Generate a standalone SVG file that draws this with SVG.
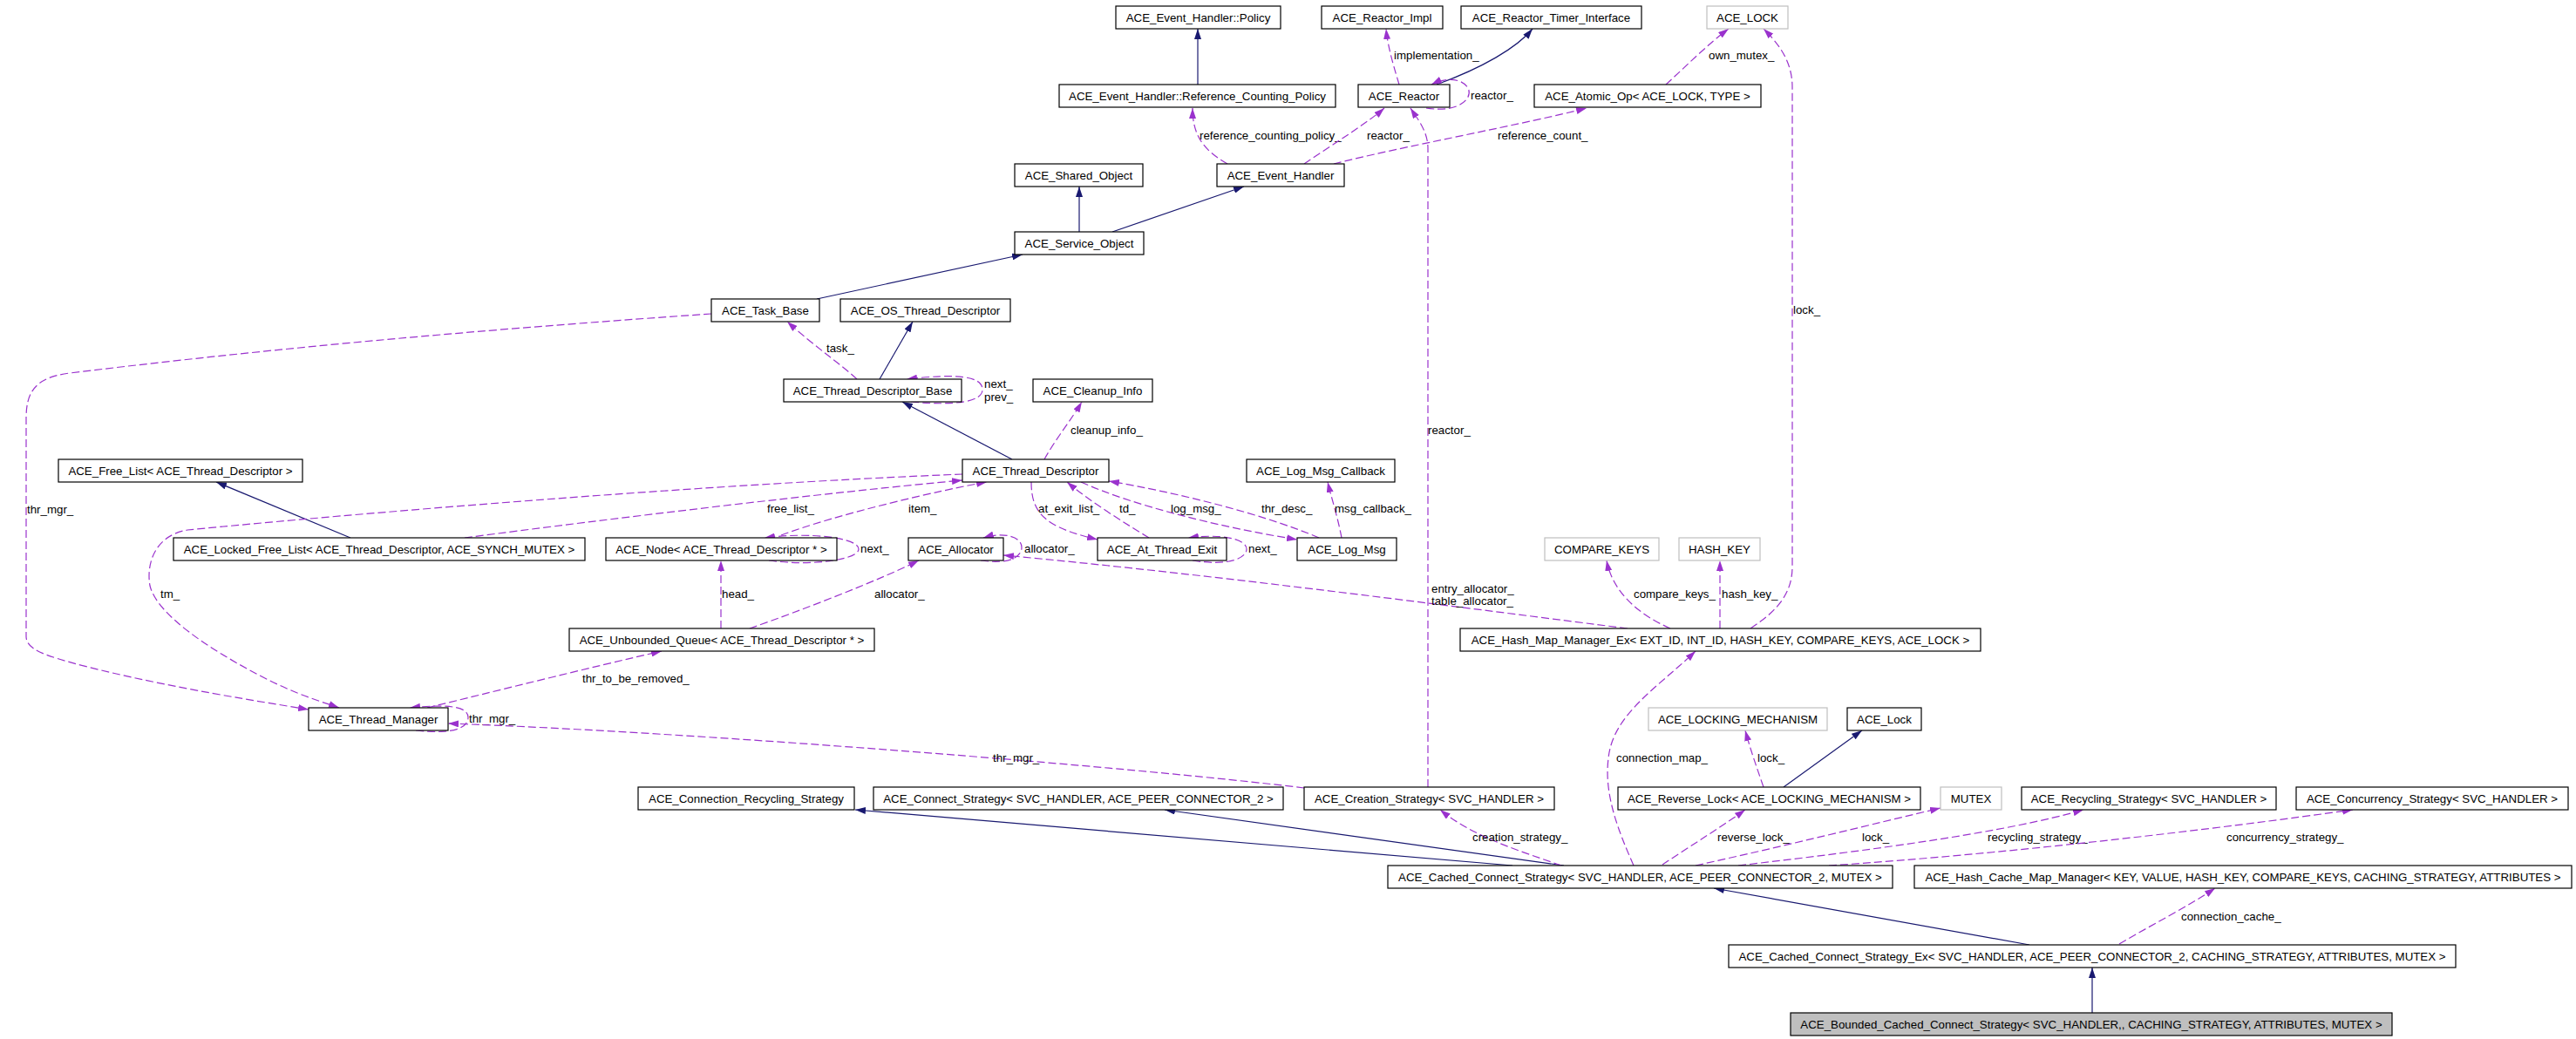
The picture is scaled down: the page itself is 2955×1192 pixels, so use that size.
<svg xmlns="http://www.w3.org/2000/svg" width="2955" height="1192" viewBox="0 0 2955 1192">
<style>
text{font-family:"Liberation Sans",Arial,sans-serif;font-size:13.3px;fill:#000}
.n rect{fill:#fff;stroke:#000;stroke-width:1.2}
.g rect{fill:#fff;stroke:#bfbfbf;stroke-width:1.2}
.cur rect{fill:#bfbfbf;stroke:#000;stroke-width:1.2}
.n text,.g text,.cur text{text-anchor:middle}
.inh{fill:none;stroke:#191970;stroke-width:1.2;marker-end:url(#an)}
.use{fill:none;stroke:#9a32cd;stroke-width:1.2;stroke-dasharray:9,4;marker-end:url(#ap)}
</style>
<defs>
<marker id="an" markerUnits="userSpaceOnUse" markerWidth="12" markerHeight="8" refX="12" refY="4" orient="auto"><path d="M0,0 L12,4 L0,8 z" fill="#191970"/></marker>
<marker id="ap" markerUnits="userSpaceOnUse" markerWidth="12" markerHeight="8" refX="12" refY="4" orient="auto"><path d="M0,0 L12,4 L0,8 z" fill="#9a32cd"/></marker>
</defs>
<rect width="2955" height="1192" fill="#fff"/>
<g id="connectors">
<path class="inh" d="M1374,97 L1374,33"/>
<path class="inh" d="M1238,266 L1238,214"/>
<path class="inh" d="M1276,266 L1427,214"/>
<path class="inh" d="M937,343 L1173,292"/>
<path class="inh" d="M1009,435 L1047,369"/>
<path class="inh" d="M1161,527 L1035,461"/>
<path class="inh" d="M402,617 L248,553"/>
<path class="inh" d="M1648,97 C1700,78 1740,55 1758,33"/>
<path class="inh" d="M2046,903 L2136,838"/>
<path class="inh" d="M1735,993 L981,929"/>
<path class="inh" d="M1794,993 L1336,929"/>
<path class="inh" d="M2328,1084 L1966,1019"/>
<path class="inh" d="M2400,1162 L2400,1110"/>

<path class="use" d="M1408,188 C1380,172 1368,155 1368,124"/>
<text x="1376" y="160">reference_counting_policy_</text>
<path class="use" d="M1496,188 C1530,165 1570,140 1588,124"/>
<text x="1568" y="160">reactor_</text>
<path class="use" d="M1530,188 C1600,170 1760,140 1820,124"/>
<text x="1718" y="160">reference_count_</text>
<path class="use" d="M1605,97 C1600,80 1592,55 1590,33"/>
<text x="1599" y="68">implementation_</text>
<path class="use" d="M1636,124 C1675,130 1690,112 1684,101 C1677,90 1660,88 1642,97"/>
<text x="1687" y="114">reactor_</text>
<path class="use" d="M1911,97 C1935,75 1960,50 1983,33"/>
<text x="1960" y="68">own_mutex_</text>
<path class="use" d="M2008,721 C2040,700 2056,680 2056,650 L2056,100 C2056,70 2040,50 2023,33"/>
<text x="2057" y="360">lock_</text>
<path class="use" d="M1638,903 L1638,170 C1638,150 1625,135 1618,124"/>
<text x="1638" y="498">reactor_</text>
<path class="use" d="M983,435 C965,418 935,398 903,369"/>
<text x="948" y="404">task_</text>
<path class="use" d="M1045,461 C1100,466 1127,460 1127,447 C1127,432 1100,428 1040,435"/>
<text x="1129" y="445">next_</text>
<text x="1129" y="460">prev_</text>
<path class="use" d="M1198,527 C1210,505 1230,480 1241,461"/>
<text x="1228" y="498">cleanup_info_</text>
<path class="use" d="M1104,544 C800,556 400,590 215,608 C175,615 168,650 172,672 C180,705 240,745 300,776 C340,797 372,806 389,812"/>
<text x="184" y="686">tm_</text>
<path class="use" d="M533,617 C700,595 950,565 1104,551"/>
<text x="880" y="588">free_list_</text>
<path class="use" d="M896,614 C960,590 1080,562 1132,553"/>
<text x="1042" y="588">item_</text>
<path class="use" d="M882,643 C930,650 985,642 985,630 C985,617 930,610 877,617"/>
<text x="987" y="634">next_</text>
<path class="use" d="M1125,643 C1160,648 1172,638 1172,628 C1172,615 1150,610 1128,617"/>
<text x="1175" y="634">allocator_</text>
<path class="use" d="M827,721 L827,643"/>
<text x="828" y="686">head_</text>
<path class="use" d="M860,721 C920,700 1010,665 1054,643"/>
<text x="1003" y="686">allocator_</text>
<path class="use" d="M1183,553 C1183,590 1200,605 1259,619"/>
<text x="1191" y="588">at_exit_list_</text>
<path class="use" d="M1318,617 C1290,600 1250,575 1224,553"/>
<text x="1284" y="588">td_</text>
<path class="use" d="M1240,553 C1300,580 1400,605 1488,619"/>
<text x="1343" y="588">log_msg_</text>
<path class="use" d="M1513,617 C1450,590 1350,565 1272,552"/>
<text x="1447" y="588">thr_desc_</text>
<path class="use" d="M1368,643 C1410,650 1430,640 1430,630 C1430,618 1400,612 1363,617"/>
<text x="1432" y="634">next_</text>
<path class="use" d="M1539,617 C1535,595 1527,570 1523,553"/>
<text x="1531" y="588">msg_callback_</text>
<path class="use" d="M1867,721 C1700,700 1400,660 1151,637"/>
<text x="1642" y="680">entry_allocator_</text>
<text x="1642" y="694">table_allocator_</text>
<path class="use" d="M1916,721 C1880,705 1850,680 1843,643"/>
<text x="1874" y="686">compare_keys_</text>
<path class="use" d="M1973,721 L1973,643"/>
<text x="1975" y="686">hash_key_</text>
<path class="use" d="M1874,993 C1855,950 1840,910 1845,870 C1850,820 1900,790 1945,747"/>
<text x="1854" y="874">connection_map_</text>
<path class="use" d="M816,360 C600,375 350,395 80,428 C40,433 30,450 30,480 L30,730 C30,745 50,752 100,765 C200,790 300,805 354,814"/>
<text x="31" y="589">thr_mgr_</text>
<path class="use" d="M490,812 C560,795 680,765 759,747"/>
<text x="668" y="783">thr_to_be_removed_</text>
<path class="use" d="M477,838 C520,843 537,835 537,823 C537,812 520,807 470,812"/>
<text x="538" y="829">thr_mgr_</text>
<path class="use" d="M1496,904 C1300,880 800,840 514,830"/>
<text x="1139" y="874">thr_mgr_</text>
<path class="use" d="M1791,993 C1740,975 1690,960 1652,929"/>
<text x="1689" y="965">creation_strategy_</text>
<path class="use" d="M1907,992 C1940,970 1980,945 2002,929"/>
<text x="1970" y="965">reverse_lock_</text>
<path class="use" d="M2023,903 C2015,880 2008,860 2002,838"/>
<text x="2016" y="874">lock_</text>
<path class="use" d="M1945,993 C2050,970 2150,945 2226,927"/>
<text x="2136" y="965">lock_</text>
<path class="use" d="M1994,993 C2150,975 2300,955 2390,929"/>
<text x="2280" y="965">recycling_strategy_</text>
<path class="use" d="M2098,993 C2300,980 2550,950 2699,929"/>
<text x="2554" y="965">concurrency_strategy_</text>
<path class="use" d="M2431,1083 C2470,1060 2510,1040 2541,1019"/>
<text x="2502" y="1056">connection_cache_</text>
</g>

<g id="policy" class="n"><rect x="1280" y="7" width="189" height="26"/><text x="1374.5" y="24.7">ACE_Event_Handler::Policy</text></g>
<g id="reactor_impl" class="n"><rect x="1516" y="7" width="139" height="26"/><text x="1585.5" y="24.7">ACE_Reactor_Impl</text></g>
<g id="timer_if" class="n"><rect x="1676" y="7" width="207" height="26"/><text x="1779.5" y="24.7">ACE_Reactor_Timer_Interface</text></g>
<g id="ace_lock_tpl" class="g"><rect x="1958" y="7" width="93" height="26"/><text x="2004.5" y="24.7">ACE_LOCK</text></g>
<g id="refpol" class="n"><rect x="1215" y="97" width="317" height="26"/><text x="1373.5" y="114.7">ACE_Event_Handler::Reference_Counting_Policy</text></g>
<g id="reactor" class="n"><rect x="1558" y="97" width="105" height="26"/><text x="1610.5" y="114.7">ACE_Reactor</text></g>
<g id="atomic" class="n"><rect x="1760" y="97" width="260" height="26"/><text x="1890" y="114.7">ACE_Atomic_Op&lt; ACE_LOCK, TYPE &gt;</text></g>
<g id="shared" class="n"><rect x="1164" y="188" width="147" height="26"/><text x="1237.5" y="205.7">ACE_Shared_Object</text></g>
<g id="evh" class="n"><rect x="1396" y="188" width="146" height="26"/><text x="1469" y="205.7">ACE_Event_Handler</text></g>
<g id="svcobj" class="n"><rect x="1164" y="266" width="148" height="26"/><text x="1238" y="283.7">ACE_Service_Object</text></g>
<g id="taskbase" class="n"><rect x="816" y="343" width="124" height="26"/><text x="878" y="360.7">ACE_Task_Base</text></g>
<g id="ostd" class="n"><rect x="964" y="343" width="195" height="26"/><text x="1061.5" y="360.7">ACE_OS_Thread_Descriptor</text></g>
<g id="tdb" class="n"><rect x="899" y="435" width="204" height="26"/><text x="1001" y="452.7">ACE_Thread_Descriptor_Base</text></g>
<g id="cleanup" class="n"><rect x="1185" y="435" width="137" height="26"/><text x="1253.5" y="452.7">ACE_Cleanup_Info</text></g>
<g id="freelist" class="n"><rect x="67" y="527" width="280" height="26"/><text x="207" y="544.7">ACE_Free_List&lt; ACE_Thread_Descriptor &gt;</text></g>
<g id="td" class="n"><rect x="1104" y="527" width="168" height="26"/><text x="1188" y="544.7">ACE_Thread_Descriptor</text></g>
<g id="logcb" class="n"><rect x="1430" y="527" width="170" height="26"/><text x="1515" y="544.7">ACE_Log_Msg_Callback</text></g>
<g id="lockedfl" class="n"><rect x="199" y="617" width="472" height="26"/><text x="435" y="634.7">ACE_Locked_Free_List&lt; ACE_Thread_Descriptor, ACE_SYNCH_MUTEX &gt;</text></g>
<g id="node" class="n"><rect x="695" y="617" width="265" height="26"/><text x="827.5" y="634.7">ACE_Node&lt; ACE_Thread_Descriptor * &gt;</text></g>
<g id="allocator" class="n"><rect x="1042" y="617" width="109" height="26"/><text x="1096.5" y="634.7">ACE_Allocator</text></g>
<g id="ate" class="n"><rect x="1259" y="617" width="148" height="26"/><text x="1333" y="634.7">ACE_At_Thread_Exit</text></g>
<g id="logmsg" class="n"><rect x="1488" y="617" width="114" height="26"/><text x="1545" y="634.7">ACE_Log_Msg</text></g>
<g id="compare" class="g"><rect x="1772" y="617" width="131" height="26"/><text x="1837.5" y="634.7">COMPARE_KEYS</text></g>
<g id="hashkey" class="g"><rect x="1926" y="617" width="93" height="26"/><text x="1972.5" y="634.7">HASH_KEY</text></g>
<g id="queue" class="n"><rect x="653" y="721" width="350" height="26"/><text x="828" y="738.7">ACE_Unbounded_Queue&lt; ACE_Thread_Descriptor * &gt;</text></g>
<g id="hmm" class="n"><rect x="1675" y="721" width="597" height="26"/><text x="1973.5" y="738.7">ACE_Hash_Map_Manager_Ex&lt; EXT_ID, INT_ID, HASH_KEY, COMPARE_KEYS, ACE_LOCK &gt;</text></g>
<g id="tm" class="n"><rect x="354" y="812" width="160" height="26"/><text x="434" y="829.7">ACE_Thread_Manager</text></g>
<g id="lockmech" class="g"><rect x="1891" y="812" width="205" height="26"/><text x="1993.5" y="829.7">ACE_LOCKING_MECHANISM</text></g>
<g id="acelock" class="n"><rect x="2119" y="812" width="85" height="26"/><text x="2161.5" y="829.7">ACE_Lock</text></g>
<g id="crs" class="n"><rect x="732" y="903" width="248" height="26"/><text x="856" y="920.7">ACE_Connection_Recycling_Strategy</text></g>
<g id="cs" class="n"><rect x="1002" y="903" width="470" height="26"/><text x="1237" y="920.7">ACE_Connect_Strategy&lt; SVC_HANDLER, ACE_PEER_CONNECTOR_2 &gt;</text></g>
<g id="creation" class="n"><rect x="1496" y="903" width="287" height="26"/><text x="1639.5" y="920.7">ACE_Creation_Strategy&lt; SVC_HANDLER &gt;</text></g>
<g id="revlock" class="n"><rect x="1856" y="903" width="347" height="26"/><text x="2029.5" y="920.7">ACE_Reverse_Lock&lt; ACE_LOCKING_MECHANISM &gt;</text></g>
<g id="mutex" class="g"><rect x="2226" y="903" width="70" height="26"/><text x="2261" y="920.7">MUTEX</text></g>
<g id="recyc" class="n"><rect x="2319" y="903" width="292" height="26"/><text x="2465" y="920.7">ACE_Recycling_Strategy&lt; SVC_HANDLER &gt;</text></g>
<g id="concur" class="n"><rect x="2634" y="903" width="312" height="26"/><text x="2790" y="920.7">ACE_Concurrency_Strategy&lt; SVC_HANDLER &gt;</text></g>
<g id="ccs" class="n"><rect x="1592" y="993" width="579" height="26"/><text x="1881.5" y="1010.7">ACE_Cached_Connect_Strategy&lt; SVC_HANDLER, ACE_PEER_CONNECTOR_2, MUTEX &gt;</text></g>
<g id="hcmm" class="n"><rect x="2196" y="993" width="754" height="26"/><text x="2573" y="1010.7">ACE_Hash_Cache_Map_Manager&lt; KEY, VALUE, HASH_KEY, COMPARE_KEYS, CACHING_STRATEGY, ATTRIBUTES &gt;</text></g>
<g id="ccsex" class="n"><rect x="1983" y="1084" width="834" height="26"/><text x="2400" y="1101.7">ACE_Cached_Connect_Strategy_Ex&lt; SVC_HANDLER, ACE_PEER_CONNECTOR_2, CACHING_STRATEGY, ATTRIBUTES, MUTEX &gt;</text></g>
<g id="bounded" class="cur"><rect x="2054" y="1162" width="690" height="26"/><text x="2399" y="1179.7">ACE_Bounded_Cached_Connect_Strategy&lt; SVC_HANDLER,, CACHING_STRATEGY, ATTRIBUTES, MUTEX &gt;</text></g>
</svg>
